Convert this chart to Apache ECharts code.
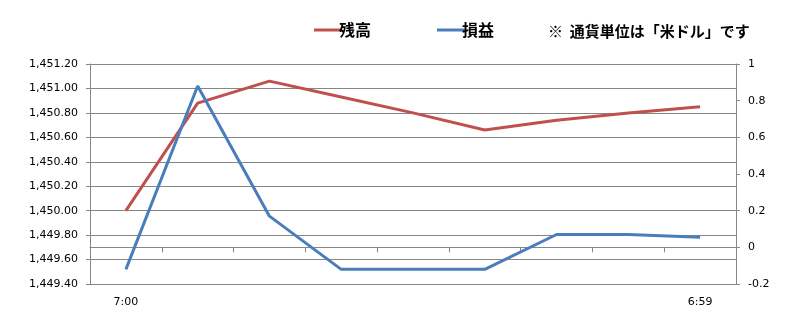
<!DOCTYPE html>
<html>
<head>
<meta charset="utf-8">
<script src="https://cdn.jsdelivr.net/npm/echarts@6/dist/echarts.min.js"></script>
<style>
html,body{margin:0;padding:0;background:#fff;}
#c{width:807px;height:314px;}
</style>
</head>
<body>
<div id="c"></div>
<script>
var categories = ["7:00","","","","","","","","6:59"];
var balance = [1450.00, 1450.88, 1451.06, 1450.93, 1450.80, 1450.66, 1450.74, 1450.80, 1450.85];
var profit = [-0.12, 0.88, 0.17, -0.12, -0.12, -0.12, 0.07, 0.07, 0.055];
var seriesNames = ["残高", "損益"];
var noteText = "※  通貨単位は「米ドル」です";

var chart = echarts.init(document.getElementById('c'), null, {renderer:'canvas'});
var axisLine = {show:true, lineStyle:{color:'#868686', width:1}};
var cjk = '"Noto Sans CJK JP", sans-serif';
var lab = '"DejaVu Sans", sans-serif';
chart.setOption({
  animation:false,
  backgroundColor:'#fff',
  grid:{left:90, right:71, top:64, bottom:30},
  legend:{
    left:309, top:17, itemWidth:28, itemHeight:3, itemGap:66,
    icon:'rect',
    textStyle:{fontFamily:cjk, fontSize:16, fontWeight:'bold', color:'#000', padding:[0,0,0,-8]},
    data:seriesNames
  },
  graphic:[{type:'text', left:548, top:24, style:{text:noteText, font:'bold 15px ' + cjk, fill:'#000'}}],
  xAxis:{
    type:'category', data:categories, boundaryGap:true,
    axisLine:axisLine,
    axisTick:{show:true, length:5, lineStyle:{color:'#868686'}, interval:0},
    axisLabel:{interval:0, margin:13, fontFamily:lab, fontSize:11, color:'#000'},
    splitLine:{show:false}
  },
  yAxis:[{
    type:'value', min:1449.4, max:1451.2, interval:0.2, position:'left',
    axisLine:axisLine,
    axisTick:{show:true, length:4, lineStyle:{color:'#868686'}},
    axisLabel:{margin:12, fontFamily:lab, fontSize:11, color:'#000',
      formatter:function(v){return v.toLocaleString('en-US',{minimumFractionDigits:2, maximumFractionDigits:2});}},
    splitLine:{show:true, lineStyle:{color:'#868686', width:1}}
  },{
    type:'value', min:-0.2, max:1, interval:0.2, position:'right',
    axisLine:axisLine,
    axisTick:{show:true, length:4, lineStyle:{color:'#868686'}},
    axisLabel:{margin:12, fontFamily:lab, fontSize:11, color:'#000',
      formatter:function(v){return String(Math.round(v*10)/10);}},
    splitLine:{show:false}
  }],
  series:[{
    name:seriesNames[0], type:'line', data:balance, yAxisIndex:0,
    symbol:'none', lineStyle:{color:'#c0504d', width:3}, itemStyle:{color:'#c0504d'}
  },{
    name:seriesNames[1], type:'line', data:profit, yAxisIndex:1,
    symbol:'none', lineStyle:{color:'#4a7ebb', width:3}, itemStyle:{color:'#4a7ebb'}
  }]
});
</script>
</body>
</html>
